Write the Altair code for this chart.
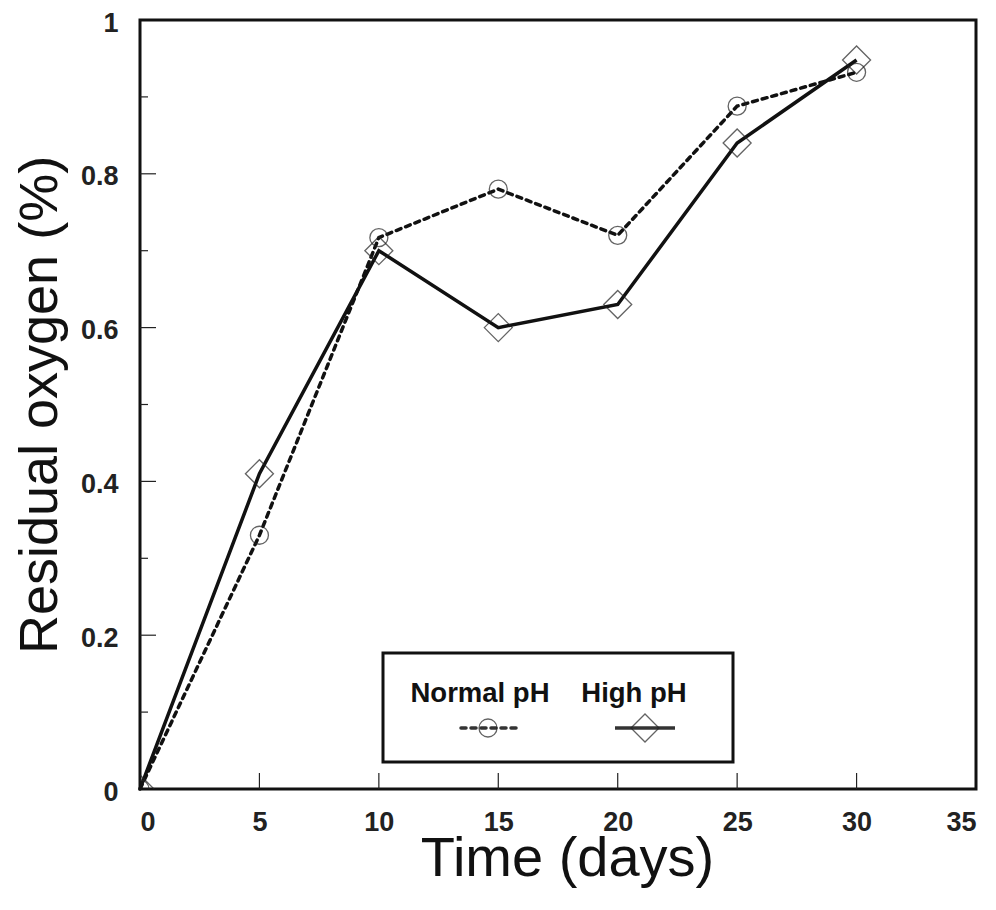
import altair as alt
import pandas as pd

# ---- data ----
days = [0, 5, 10, 15, 20, 25, 30]
normal_ph = [0.0, 0.33, 0.717, 0.78, 0.72, 0.888, 0.932]
high_ph = [0.0, 0.41, 0.70, 0.60, 0.63, 0.84, 0.948]
series_names = ["Normal pH", "High pH"]

x_tick_values = [0, 5, 10, 15, 20, 25, 30, 35]
x_inner_ticks = [5, 10, 15, 20, 25, 30]
y_tick_values = [0, 0.2, 0.4, 0.6, 0.8, 1.0]
y_major_inner = [0.2, 0.4, 0.6, 0.8]
y_minor_inner = [0.1, 0.3, 0.5, 0.7, 0.9]

W, H = 836, 769
FONT = "Liberation Sans"

df = pd.DataFrame({
    "day": days * 2,
    "oxygen": normal_ph + high_ph,
    "series": [series_names[0]] * len(days) + [series_names[1]] * len(days),
})
df_n = df[df.series == series_names[0]]
df_h = df[df.series == series_names[1]]

xs = alt.Scale(domain=[0, 35], nice=False, zero=False)
ys = alt.Scale(domain=[0, 1], nice=False, zero=False)

x_axis = alt.Axis(values=x_tick_values, format="~g", ticks=False, domain=False, grid=False,
                  labelFont=FONT, labelFontSize=27, labelFontWeight="bold", labelColor="#222",
                  labelPadding=20, title="Time (days)", titleFont=FONT, titleFontSize=56,
                  titleFontWeight="normal", titleColor="#111", titleX=427, titleY=86,
                  titleBaseline="alphabetic", titleAlign="center")
y_axis = alt.Axis(values=y_tick_values, format="~g", ticks=False, domain=False, grid=False,
                  labelFont=FONT, labelFontSize=27, labelFontWeight="bold", labelColor="#222",
                  labelPadding=22, labelOffset=3, title="Residual oxygen (%)", titleFont=FONT,
                  titleFontSize=54, titleFontWeight="normal", titleColor="#111", titleX=-84,
                  titleY=H / 2, titleBaseline="alphabetic", titleAlign="center", titleAngle=270)

X = alt.X("day:Q", scale=xs, axis=x_axis)
Y = alt.Y("oxygen:Q", scale=ys, axis=y_axis)

line_n = alt.Chart(df_n).mark_line(color="#111", strokeWidth=3.5, strokeDash=[5, 5],
                                   strokeCap="round").encode(x=X, y=Y)
line_h = alt.Chart(df_h).mark_line(color="#111", strokeWidth=3.5).encode(x=X, y=Y)
pts_n = alt.Chart(df_n).mark_point(shape="circle", size=324, filled=False, color="#222",
                                   strokeWidth=1.3, clip=True).encode(x=X, y=Y)
pts_h = alt.Chart(df_h).mark_point(shape="diamond", size=784, filled=False, color="#222",
                                   strokeWidth=1.3, clip=True).encode(x=X, y=Y)

# inward tick marks
ytick_major = alt.Chart(pd.DataFrame({"oxygen": y_major_inner})).mark_rule(color="#222", strokeWidth=1.2).encode(
    y=Y, x=alt.value(0), x2=alt.value(16))
ytick_minor = alt.Chart(pd.DataFrame({"oxygen": y_minor_inner})).mark_rule(color="#222", strokeWidth=1.2).encode(
    y=Y, x=alt.value(0), x2=alt.value(8))
xtick_major = alt.Chart(pd.DataFrame({"day": x_inner_ticks})).mark_rule(color="#222", strokeWidth=1.2).encode(
    x=X, y=alt.value(H), y2=alt.value(H - 16))

# custom legend (label above its symbol, inside a box)
legend_box = alt.Chart(pd.DataFrame({"a": [0]})).mark_rect(fill="white", stroke="#111", strokeWidth=3).encode(
    x=alt.value(243), x2=alt.value(593), y=alt.value(633), y2=alt.value(742))
legend_text = alt.Chart(pd.DataFrame({"label": series_names, "px": [340, 494]})).mark_text(
    font=FONT, fontSize=27.5, fontWeight="bold", color="#111", baseline="alphabetic", align="center").encode(
    x=alt.X("px:Q", scale=None), y=alt.value(682), text="label:N")
legend_dash = alt.Chart(pd.DataFrame({"a": [0]})).mark_rule(color="#333", strokeWidth=3.5,
                                                            strokeDash=[5, 5], strokeCap="round").encode(
    x=alt.value(321), x2=alt.value(378), y=alt.value(708))
legend_solid = alt.Chart(pd.DataFrame({"a": [0]})).mark_rule(color="#333", strokeWidth=3.5).encode(
    x=alt.value(475), x2=alt.value(535), y=alt.value(708))
legend_circle = alt.Chart(pd.DataFrame({"a": [0]})).mark_point(shape="circle", size=324, filled=False,
                                                               color="#222", strokeWidth=1.3).encode(
    x=alt.value(348), y=alt.value(708))
legend_diamond = alt.Chart(pd.DataFrame({"a": [0]})).mark_point(shape="diamond", size=784, filled=False,
                                                                color="#222", strokeWidth=1.3).encode(
    x=alt.value(505), y=alt.value(708))

chart = alt.layer(
    line_n, line_h, pts_n, pts_h, ytick_major, ytick_minor, xtick_major,
    legend_box, legend_text, legend_dash, legend_solid, legend_circle, legend_diamond,
).properties(
    width=W, height=H,
    background="white",
    autosize=alt.AutoSizeParams(type="none"),
    padding={"left": 132, "top": 12, "right": 12, "bottom": 113},
).configure_view(stroke="#111", strokeWidth=3)

chart.save("out.html", embed_options={"renderer": "svg", "actions": False})
